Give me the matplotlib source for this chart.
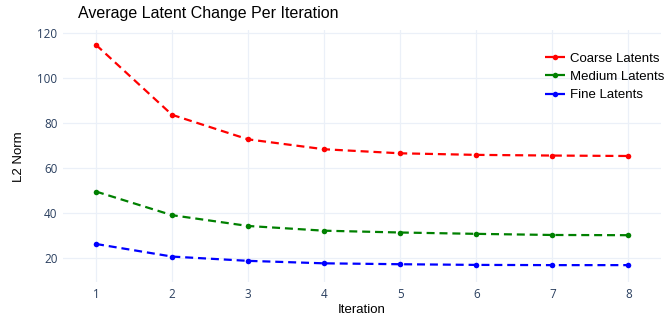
import matplotlib
matplotlib.use("Agg")
import matplotlib.pyplot as plt

# data
iterations = [1, 2, 3, 4, 5, 6, 7, 8]
coarse = [114.7, 83.6, 72.7, 68.3, 66.5, 65.8, 65.5, 65.3]
medium = [49.5, 39.0, 34.2, 32.1, 31.3, 30.7, 30.2, 30.1]
fine = [26.2, 20.6, 18.7, 17.6, 17.2, 16.9, 16.8, 16.8]
series_names = ['Coarse Latents', 'Medium Latents', 'Fine Latents']
series_colors = ['red', 'green', 'blue']
y_ticks = [20, 40, 60, 80, 100, 120]

W, H = 672, 317
fig = plt.figure(figsize=(W / 100, H / 100), dpi=100)
ax = fig.add_axes([63 / W, 1 - 282 / H, (661 - 63) / W, (282 - 30) / H])

lw = 1.6
for vals, name, col in zip([coarse, medium, fine], series_names, series_colors):
    ax.plot(iterations, vals, color=col, lw=lw, linestyle=(0, (3.6, 2.2)),
            marker='o', markersize=4.0, markeredgewidth=0, label=name)

ax.set_xlim(0.566, 8.43)
ax.set_ylim(9.3, 121.3)
ax.set_xticks(iterations)
ax.set_yticks(y_ticks)
ax.grid(True, color='#EBF0F8', lw=0.9)
ax.set_axisbelow(True)
for s in ax.spines.values():
    s.set_visible(False)
ax.tick_params(length=0, labelsize=8.4, labelcolor='#2a3f5f', pad=4)
for lab in ax.get_xticklabels() + ax.get_yticklabels():
    lab.set_fontfamily('Open Sans')

fig.text(78 / W, 1 - 18 / H, 'Average Latent Change Per Iteration',
         fontsize=11.5, family='Liberation Sans', color='black', va='baseline')
fig.text(362 / W, 1 - 310 / H, 'Iteration', fontsize=9.5,
         family='Liberation Sans', ha='center', va='center')
fig.text(19 / W, 1 - 157 / H, 'L2 Norm', fontsize=9.5, family='Liberation Sans',
         rotation=90, ha='center', va='center')

leg = ax.legend(loc='upper left', bbox_to_anchor=(0.806, 0.91), frameon=False,
                prop={'family': 'Liberation Sans', 'size': 9.5},
                handlelength=1.5, handletextpad=0.4, labelspacing=0.45,
                borderpad=0, borderaxespad=0)

fig.savefig('out.png', dpi=100)
